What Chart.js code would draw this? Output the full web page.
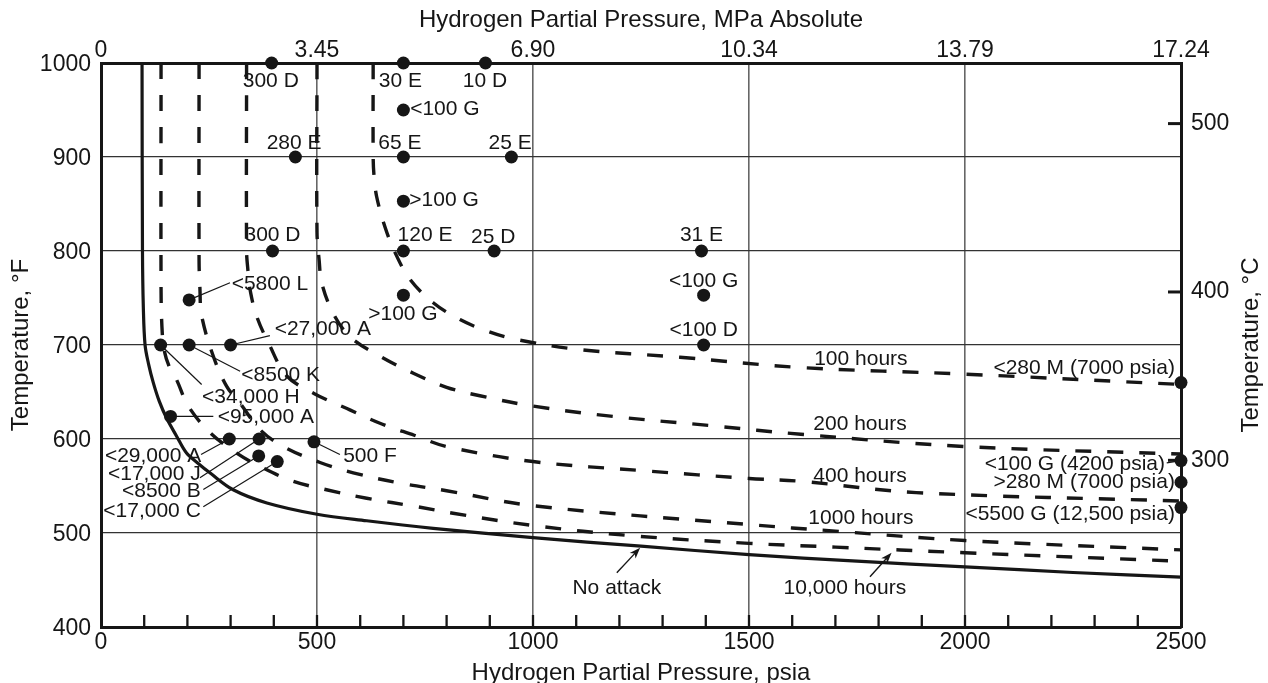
<!DOCTYPE html>
<html><head><meta charset="utf-8">
<script src="https://cdn.jsdelivr.net/npm/chart.js@4.4.0/dist/chart.umd.min.js"></script>
<style>html,body{margin:0;padding:0;background:#fff;}canvas{display:block;}</style>
</head><body>
<canvas id="c" width="1268" height="683"></canvas>
<script>
// ---------- DATA ----------
const psiaTicks = [0, 500, 1000, 1500, 2000, 2500];
const psiaLabels = ['0', '500', '1000', '1500', '2000', '2500'];
const mpaLabels = ['0', '3.45', '6.90', '10.34', '13.79', '17.24'];
const degCTicks = [300, 400, 500];

const noAttackX = [95, 96, 98, 102, 110, 121, 135, 152, 175, 198, 225, 252, 306, 384, 500, 615, 769, 1000, 1250, 1500, 1750, 2000, 2250, 2500];
const noAttackY = [1000, 800, 740, 700, 680, 660, 640, 622, 603, 585, 574, 564, 546, 532, 520, 513, 505, 495, 486, 477, 470, 464, 458, 453];

const h100X = [630, 630, 632, 638, 657, 681, 715, 769, 831, 893, 960, 1110, 1340, 1620, 2000, 2500];
const h100Y = [1000, 900, 880, 858, 826, 798, 770, 745, 727, 715, 706, 695, 687, 676, 669, 658];

const h200X = [500, 500, 505, 511, 537, 576, 646, 723, 800, 877, 1000, 1186, 1417, 1620, 2000, 2500];
const h200Y = [1000, 820, 790, 766, 734, 709, 688, 670, 655, 646, 635, 624, 614, 605, 592, 584];

const h400X = [337, 337, 340, 345, 360, 391, 430, 495, 576, 650, 725, 800, 1000, 1264, 1500, 1620, 1887, 2500];
const h400Y = [1000, 800, 780, 759, 731, 699, 667, 648, 631, 616, 604, 592, 576, 566, 558, 555, 543, 534];

const h1000X = [227, 227, 229, 233, 260, 291, 322, 368, 422, 507, 584, 692, 800, 1000, 1500, 1700, 2000, 2500];
const h1000Y = [1000, 790, 760, 731, 688, 656, 638, 610, 592, 575, 564, 553, 545, 529, 509, 502, 492, 482];

const h10000X = [139, 139, 141, 146, 158, 175, 202, 252, 314, 376, 445, 522, 615, 731, 815, 1000, 1232, 1500, 1700, 2000, 2500];
const h10000Y = [1000, 760, 720, 695, 677, 663, 635, 607, 585, 569, 555, 546, 537, 528, 521, 508, 497, 489, 485, 479, 470];

const testX = [395, 700, 890, 700, 450, 700, 950, 700, 397, 700, 910, 1390, 1395, 1395, 700, 204, 300, 138, 204, 161, 297, 366, 365, 408, 493, 2500, 2500, 2500, 2500];
const testY = [1000, 1000, 1000, 950, 900, 900, 900, 853, 800, 800, 800, 800, 753, 700, 753, 748, 700, 700, 700, 624, 600, 600, 582, 576, 597, 660, 577, 554, 527];
const testLabels = ['300 D', '30 E', '10 D', '<100 G', '280 E', '65 E', '25 E', '>100 G', '300 D', '120 E', '25 D', '31 E', '<100 G', '<100 D', '>100 G',
  '<5800 L', '<27,000 A', '<34,000 H', '<8500 K', '<95,000 A', '<29,000 A', '<17,000 J', '<8500 B', '<17,000 C', '500 F',
  '<280 M (7000 psia)', '<100 G (4200 psia)', '>280 M (7000 psia)', '<5500 G (12,500 psia)'];

const curveNames = ['No attack', '100 hours', '200 hours', '400 hours', '1000 hours', '10,000 hours'];

// ---------- LAYOUT OF ANNOTATIONS (in data units) ----------
const labelPlace = [
  [393, 981, 'center'], [693, 981, 'center'], [889, 981, 'center'], [796, 951, 'center'],
  [447, 915, 'center'], [692, 915, 'center'], [947, 915, 'center'], [794, 854, 'center'],
  [397, 816.5, 'center'], [750, 816.5, 'center'], [908, 815, 'center'], [1390, 816.5, 'center'],
  [1395, 768, 'center'], [1395, 716, 'center'], [699, 732.5, 'center'],
  [391, 764.4, 'center', [298.6, 766.2]],
  [513.5, 716.5, 'center', [391, 710]],
  [346.8, 644.1, 'center', [233, 658]],
  [416, 667.8, 'center', [322, 672]],
  [381.5, 623.7, 'center', [260, 624]],
  [232, 581.7, 'right', [231.5, 583.5]],
  [231, 563, 'right', [229, 558.7]],
  [231, 544.5, 'right', [236.8, 546.3]],
  [231, 523.2, 'right', [236.8, 527.9]],
  [622.7, 581.7, 'center', [553, 583.5]],
  [2486, 675.3, 'right'],
  [2463, 573.2, 'right', [2467, 574.7]],
  [2486, 553.9, 'right'],
  [2486, 520, 'right']
];
const curveLabelPlace = [
  [1194, 441.7, [1194, 457.7], [1248, 484.3]],
  [1759, 684.6], [1757, 616.2], [1757, 560.4], [1759, 516],
  [1722, 441.7, [1780, 453.4], [1830, 479]]
];

const FONT = "'Liberation Sans', Arial, Helvetica, sans-serif";
const INK = '#161616';

function xy(xs, ys) { return xs.map((v, i) => ({x: v, y: ys[i]})); }

const dashed = (xs, ys) => ({
  data: xy(xs, ys), showLine: true, pointRadius: 0, borderColor: INK, borderWidth: 3.4,
  borderDash: [16, 16], tension: 0.35, fill: false, xAxisID: 'x', yAxisID: 'y'
});

const annot = {
  id: 'annot',
  beforeDatasetsDraw(chart) {
    const {ctx, chartArea: ca} = chart;
    const X = chart.scales.x, Y = chart.scales.y, Y2 = chart.scales.y2;
    ctx.save();
    ctx.strokeStyle = INK; ctx.lineWidth = 2.3;
    for (let v = 100; v < 2500; v += 100) {
      const px = X.getPixelForValue(v);
      ctx.beginPath(); ctx.moveTo(px, ca.bottom); ctx.lineTo(px, ca.bottom - 12); ctx.stroke();
    }
    ctx.lineWidth = 3;
    degCTicks.forEach(c => {
      const py = Y2.getPixelForValue(c);
      ctx.beginPath(); ctx.moveTo(ca.right, py); ctx.lineTo(ca.right - 13, py); ctx.stroke();
    });
    ctx.lineWidth = 1.2;
    labelPlace.forEach((p, i) => {
      if (!p[3]) return;
      ctx.beginPath();
      ctx.moveTo(X.getPixelForValue(testX[i]), Y.getPixelForValue(testY[i]));
      ctx.lineTo(X.getPixelForValue(p[3][0]), Y.getPixelForValue(p[3][1]));
      ctx.stroke();
    });
    ctx.restore();
  },
  afterDatasetsDraw(chart) {
    const {ctx} = chart;
    const X = chart.scales.x, Y = chart.scales.y;
    ctx.save();
    ctx.fillStyle = INK; ctx.strokeStyle = INK;
    ctx.font = '21px ' + FONT;
    ctx.textBaseline = 'middle';
    labelPlace.forEach((p, i) => {
      ctx.textAlign = p[2];
      ctx.fillText(testLabels[i], X.getPixelForValue(p[0]), Y.getPixelForValue(p[1]));
    });
    curveLabelPlace.forEach((p, i) => {
      ctx.textAlign = 'center';
      ctx.fillText(curveNames[i], X.getPixelForValue(p[0]), Y.getPixelForValue(p[1]));
      if (p[2]) {
        const x0 = X.getPixelForValue(p[2][0]), y0 = Y.getPixelForValue(p[2][1]);
        const x1 = X.getPixelForValue(p[3][0]), y1 = Y.getPixelForValue(p[3][1]);
        const a = Math.atan2(y1 - y0, x1 - x0);
        ctx.lineWidth = 1.4;
        ctx.beginPath(); ctx.moveTo(x0, y0); ctx.lineTo(x1 - 6 * Math.cos(a), y1 - 6 * Math.sin(a)); ctx.stroke();
        ctx.beginPath();
        ctx.moveTo(x1, y1);
        ctx.lineTo(x1 - 11 * Math.cos(a) + 4 * Math.sin(a), y1 - 11 * Math.sin(a) - 4 * Math.cos(a));
        ctx.lineTo(x1 - 8 * Math.cos(a), y1 - 8 * Math.sin(a));
        ctx.lineTo(x1 - 11 * Math.cos(a) - 4 * Math.sin(a), y1 - 11 * Math.sin(a) + 4 * Math.cos(a));
        ctx.closePath(); ctx.fill();
      }
    });
    ctx.font = '24px ' + FONT;
    ctx.translate(1251, (chart.chartArea.top + chart.chartArea.bottom) / 2);
    ctx.rotate(-Math.PI / 2);
    ctx.textAlign = 'center';
    ctx.fillText('Temperature, °C', 0, 0);
    ctx.restore();
  }
};

const tickFont = {family: FONT, size: 23, lineHeight: 1};

new Chart(document.getElementById('c'), {
  type: 'scatter',
  data: {
    datasets: [
      {data: xy(testX, testY), pointRadius: 6.5, pointBackgroundColor: INK, pointBorderWidth: 0,
       showLine: false, clip: false, xAxisID: 'x', yAxisID: 'y'},
      {data: xy(noAttackX, noAttackY), showLine: true, pointRadius: 0, borderColor: INK, borderWidth: 3.2,
       tension: 0.35, fill: false, xAxisID: 'x', yAxisID: 'y'},
      dashed(h100X, h100Y), dashed(h200X, h200Y), dashed(h400X, h400Y),
      dashed(h1000X, h1000Y), dashed(h10000X, h10000Y)
    ]
  },
  options: {
    responsive: false, animation: false, events: [],
    layout: {padding: 0},
    plugins: {legend: {display: false}, tooltip: {enabled: false}},
    scales: {
      x: {
        type: 'linear', position: 'bottom', min: 0, max: 2500,
        afterBuildTicks: s => { s.ticks = psiaTicks.map(v => ({value: v})); },
        ticks: {font: tickFont, color: INK, padding: 4, maxRotation: 0, autoSkip: false,
                callback: (v, i) => psiaLabels[i]},
        grid: {color: '#666', lineWidth: 1.6, drawTicks: false},
        border: {display: true, width: 3, color: INK},
        title: {display: true, text: 'Hydrogen Partial Pressure, psia', color: INK,
                font: {family: FONT, size: 24, lineHeight: 0.8}, padding: {top: 0, bottom: 0}},
        afterFit: s => { s.height = 56; }
      },
      x2: {
        type: 'linear', position: 'top', min: 0, max: 2500,
        afterBuildTicks: s => { s.ticks = psiaTicks.map(v => ({value: v})); },
        ticks: {font: tickFont, color: INK, padding: 1, maxRotation: 0, autoSkip: false,
                callback: (v, i) => mpaLabels[i]},
        grid: {display: false, drawTicks: false},
        border: {display: true, width: 3, color: INK},
        title: {display: true, text: 'Hydrogen Partial Pressure, MPa Absolute', color: INK,
                font: {family: FONT, size: 24, lineHeight: 1.2}, padding: {top: 6, bottom: 0}},
        afterFit: s => { s.height = 63; }
      },
      y: {
        type: 'linear', position: 'left', min: 400, max: 1000,
        ticks: {stepSize: 100, font: tickFont, color: INK, padding: 10, labelOffset: 2,
                callback: v => String(v)},
        grid: {color: '#333', lineWidth: 1.2, drawTicks: false},
        border: {display: true, width: 3, color: INK},
        title: {display: true, text: 'Temperature, °F', color: INK,
                font: {family: FONT, size: 24, lineHeight: 1.2}, padding: {top: 7, bottom: 0}},
        afterFit: s => { s.width = 101; }
      },
      y2: {
        type: 'linear', position: 'right', min: 201, max: 536,
        afterBuildTicks: s => { s.ticks = degCTicks.map(v => ({value: v})); },
        ticks: {font: tickFont, color: INK, padding: 10, callback: v => String(v)},
        grid: {display: false, drawTicks: false},
        border: {display: true, width: 3, color: INK},
        afterFit: s => { s.width = 87; }
      }
    }
  },
  plugins: [annot]
});
</script>
</body></html>
